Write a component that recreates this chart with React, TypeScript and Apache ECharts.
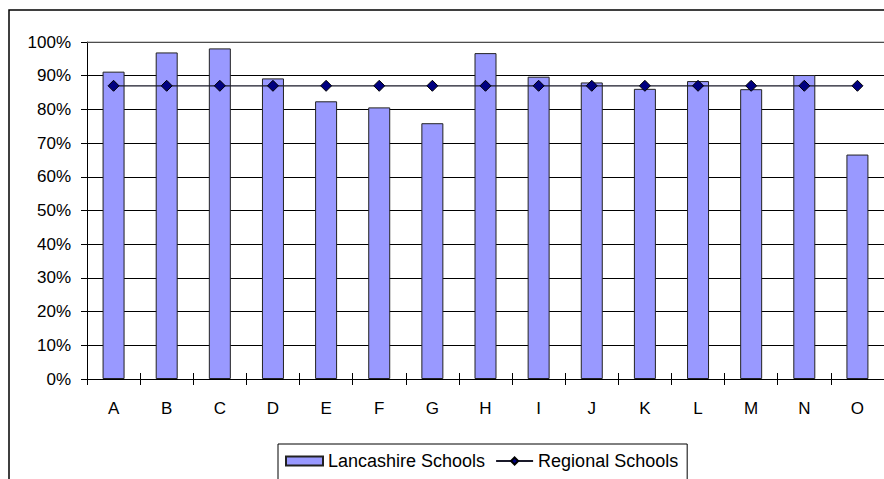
import React, { useEffect, useRef } from "react";
import * as echarts from "echarts";

const categories = ["A", "B", "C", "D", "E", "F", "G", "H", "I", "J", "K", "L", "M", "N", "O"];
const lancashireSchools = [91.2, 96.9, 98.1, 89.2, 82.4, 80.6, 75.9, 96.7, 89.7, 88.0, 86.1, 88.4, 86.0, 90.2, 66.6];
const regionalSchools = [87.0, 87.0, 87.0, 87.0, 87.0, 87.0, 87.0, 87.0, 87.0, 87.0, 87.0, 87.0, 87.0, 87.0, 87.0];
const yMin = 0;
const yMax = 100;
const yInterval = 10;
const seriesNames = ["Lancashire Schools", "Regional Schools"];

const FONT = "'Liberation Sans', Arial, Helvetica, sans-serif";

export default function App() {
  const ref = useRef<HTMLDivElement>(null);

  useEffect(() => {
    if (!ref.current) return;
    const chart = echarts.init(ref.current, undefined, { renderer: "svg" });
    const gridLeft = 87;
    const gridTop = 42;
    const gridWidth = 798;
    const gridHeight = 337;

    chart.setOption({
      animation: false,
      backgroundColor: "#fff",
      grid: { left: gridLeft, top: gridTop, width: gridWidth, height: gridHeight, containLabel: false },
      xAxis: [
        {
          type: "category",
          data: categories,
          boundaryGap: true,
          axisLine: { show: true, lineStyle: { color: "#000", width: 1 } },
          axisTick: { show: true, inside: false, length: 6, lineStyle: { color: "#000" } },
          axisLabel: { fontFamily: FONT, fontSize: 17, color: "#000", margin: 21 },
          splitLine: { show: false },
        },
        {
          type: "category",
          data: categories,
          position: "bottom",
          boundaryGap: true,
          axisLine: { show: false },
          axisTick: { show: true, inside: true, length: 6, lineStyle: { color: "#000" } },
          axisLabel: { show: false },
          splitLine: { show: false },
        },
      ],
      yAxis: [
        {
          type: "value",
          min: yMin,
          max: yMax,
          interval: yInterval,
          axisLine: { show: true, lineStyle: { color: "#000", width: 1 } },
          axisTick: { show: true, inside: false, length: 6, lineStyle: { color: "#000" } },
          axisLabel: { fontFamily: FONT, fontSize: 17, color: "#000", margin: 16, formatter: "{value}%" },
          splitLine: { show: true, lineStyle: { color: "#000", width: 1 } },
        },
        {
          type: "value",
          position: "left",
          min: yMin,
          max: yMax,
          interval: yInterval,
          axisLine: { show: false },
          axisTick: { show: true, inside: true, length: 6, lineStyle: { color: "#000" } },
          axisLabel: { show: false },
          splitLine: { show: false },
        },
      ],
      legend: {
        left: 278,
        top: 444,
        orient: "horizontal",
        itemWidth: 37,
        itemHeight: 9,
        itemGap: 10,
        padding: [8, 9, 30, 7],
        borderColor: "#000",
        borderWidth: 1,
        backgroundColor: "#fff",
        textStyle: { fontFamily: FONT, fontSize: 18, color: "#000" },
        data: [{ name: seriesNames[0], icon: "rect" }, { name: seriesNames[1] }],
      },
      series: [
        {
          name: seriesNames[0],
          type: "bar",
          data: lancashireSchools,
          barWidth: 22,
          itemStyle: { color: "#9999FF", borderColor: "#222", borderWidth: 1 },
          z: 2,
        },
        {
          name: seriesNames[1],
          type: "line",
          data: regionalSchools,
          symbol: "diamond",
          symbolSize: 11,
          lineStyle: { color: "#1a1a2a", width: 1.3 },
          itemStyle: { color: "#000080", borderColor: "#000", borderWidth: 1 },
          z: 3,
        },
      ],
      graphic: [
        {
          type: "rect",
          shape: { x: 9, y: 10, width: 1000, height: 1000 },
          style: { fill: "none", stroke: "#000", lineWidth: 1.5 },
          silent: true,
          z: 0,
        },
        {
          type: "line",
          shape: { x1: gridLeft, y1: gridTop, x2: gridLeft + gridWidth, y2: gridTop },
          style: { stroke: "#999", lineWidth: 1 },
          silent: true,
          z: 1,
        },
        {
          type: "line",
          shape: { x1: gridLeft + gridWidth, y1: gridTop, x2: gridLeft + gridWidth, y2: gridTop + gridHeight },
          style: { stroke: "#999", lineWidth: 1 },
          silent: true,
          z: 1,
        },
      ],
    });
    return () => chart.dispose();
  }, []);

  return (
    <div
      ref={ref}
      style={{ position: "absolute", left: 0, top: 0, width: 884, height: 479 }}
    />
  );
}
